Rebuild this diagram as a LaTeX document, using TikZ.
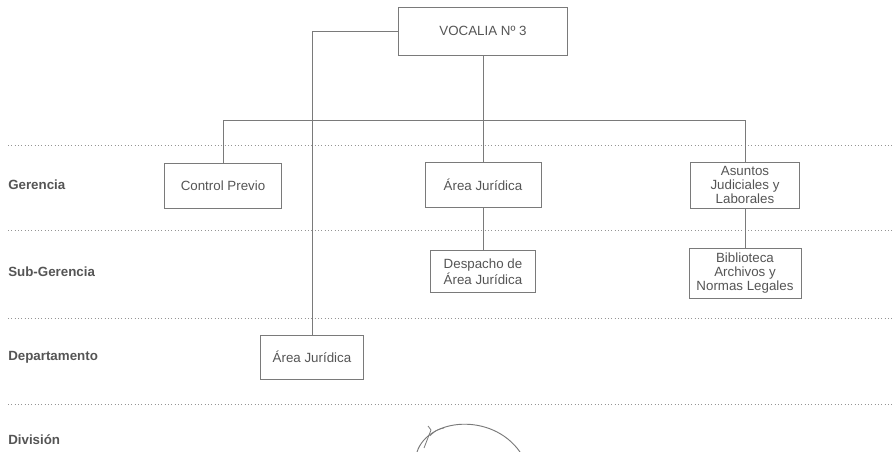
\documentclass[tikz,border=0pt]{standalone}
\usepackage{fontspec}
\setmainfont{Liberation Sans}
\usetikzlibrary{positioning,calc}
\definecolor{inkgray}{HTML}{555555}
\definecolor{linegray}{HTML}{7A7A7A}

\begin{document}
\begin{tikzpicture}
      [x=0.75pt,y=-0.75pt,
       unit/.style={draw=linegray,line width=0.6pt,fill=white,text=inkgray,align=center,inner sep=2pt,
                    font=\fontsize{10}{10.5}\selectfont},
       level/.style={anchor=west,text=inkgray,inner sep=0pt,font=\fontsize{10}{11}\selectfont\bfseries},
       link/.style={draw=linegray,line width=0.6pt},
       rowline/.style={draw=linegray!80,line width=0.5pt,dotted}]
      \useasboundingbox (0,0) rectangle (894,452);

      % row separators
      \foreach \y in {145,230,318,404}
        \draw[rowline] (8,\y) -- (894,\y);

      % level names
      \node[level] (ger) at (8,185) {Gerencia};
      \node[level] (subger) at (8,272) {Sub-Gerencia};
      \node[level] (depto) at (8,357) {Departamento};
      \node[level] (divi) at (8,440) {División};

      \node[unit,minimum width=126.75pt,minimum height=36pt] (voc) at (483,31) {VOCALIA Nº 3};
      \node[unit,minimum width=87.75pt,minimum height=33.75pt] (ctrl) at (223,185.5) {Control Previo};
      \node[unit,minimum width=87pt,minimum height=33.75pt] (areag) at (483,184.5) {Área Jurídica};
      \node[unit,minimum width=82pt,minimum height=34.5pt] (asun) at (745,185) {Asuntos\\Judiciales y\\Laborales};
      \node[unit,minimum width=79pt,minimum height=32pt] (desp) at (483,271.5) {Despacho de\\Área Jurídica};
      \node[unit,minimum width=84pt,minimum height=37pt] (bibl) at (745,273.5) {Biblioteca\\Archivos y\\Normas Legales};
      \node[unit,minimum width=77pt,minimum height=33pt] (dep) at (312,357) {Área Jurídica};

      \coordinate (bus) at (483,120);

      \draw[link] (voc.south) -- (bus);
      \draw[link] (ctrl.north) -- (ctrl.north |- bus) -- (asun.north |- bus) -- (asun.north);
      \draw[link] (bus) -- (areag.north);
      \draw[link] (areag.south) -- (desp.north);
      \draw[link] (asun.south) -- (bibl.north);
      \draw[link] (voc.west) -| (dep.north);

      % signature
      \draw[linegray,line width=0.7pt] (417,452) .. controls (428,418) and (492,412) .. (520,452);
      \draw[linegray,line width=0.6pt] (424,448) -- (431,430) -- (428,426);
      \draw[linegray,line width=0.5pt] (430,436) .. controls (436,430) .. (444,428);
    \end{tikzpicture}
\end{document}
